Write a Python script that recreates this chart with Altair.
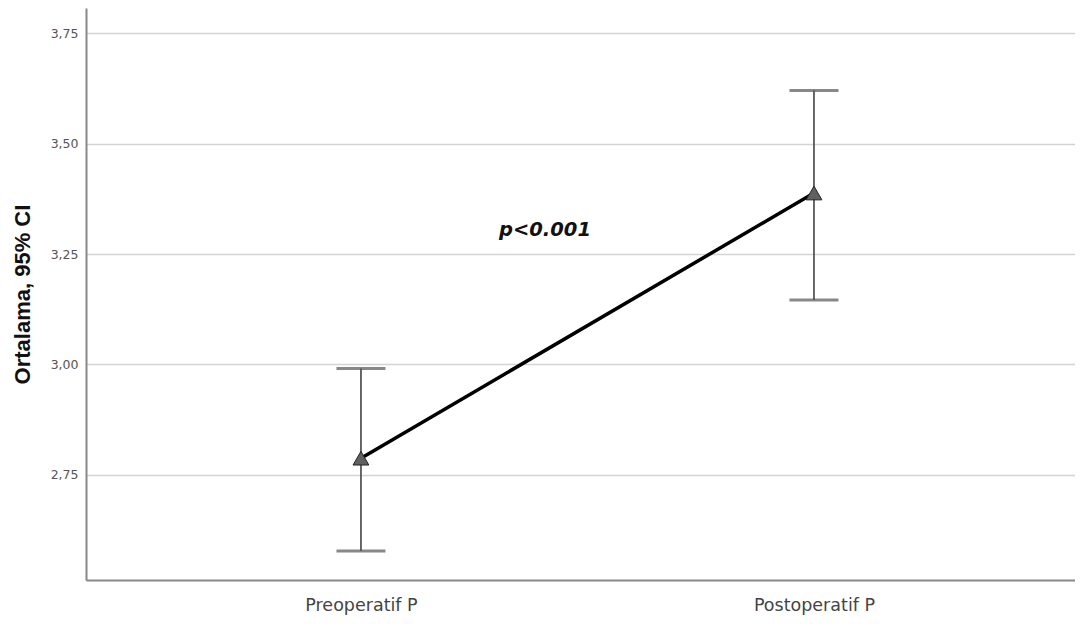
import altair as alt
import pandas as pd

groups = ["Preoperatif P", "Postoperatif P"]
means = [2.788, 3.388]
lower = [2.578, 3.146]
upper = [2.991, 3.620]
y_ticks = [2.75, 3.00, 3.25, 3.50, 3.75]
annotation = "p<0.001"
annotation_y = 3.304

df = pd.DataFrame({"group": groups, "mean": means, "lo": lower, "hi": upper})

xscale = alt.Scale(type="point", padding=0.5916, align=0.513)
xaxis = alt.Axis(labelFont="DejaVu Sans", labelFontSize=17.5, labelColor="#444444",
                 labelPadding=16, ticks=False, domainColor="#888888", domainWidth=2,
                 labelAngle=0, grid=False, title=None)
yscale = alt.Scale(domain=[2.5124, 3.8066], nice=False, zero=False)
yaxis = alt.Axis(values=y_ticks, title="Ortalama, 95% CI",
                 labelExpr="replace(format(datum.value, '.2f'), '.', ',')",
                 labelFont="DejaVu Sans", labelFontSize=12.5, labelColor="#555555",
                 labelPadding=8, ticks=False, domainColor="#888888", domainWidth=2,
                 grid=True, gridColor="#d4d4d4", gridWidth=1.5,
                 titleFont="Liberation Sans", titleFontSize=22, titleFontWeight="bold",
                 titleColor="#111111", titlePadding=16)


def X():
    return alt.X("group:N", sort=groups, title=None, scale=xscale, axis=xaxis)


def Y(field):
    return alt.Y(field, scale=yscale, axis=yaxis, title="Ortalama, 95% CI")


base = alt.Chart(df)

bars = base.mark_rule(color="#444444", strokeWidth=1.6).encode(
    x=X(), y=Y("lo:Q"), y2="hi:Q")
caps_lo = base.mark_tick(color="#555555", size=49, thickness=3, orient="horizontal").encode(
    x=X(), y=Y("lo:Q"))
caps_hi = base.mark_tick(color="#555555", size=49, thickness=3, orient="horizontal").encode(
    x=X(), y=Y("hi:Q"))
line = base.mark_line(color="#000000", strokeWidth=3.5).encode(
    x=X(), y=Y("mean:Q"))
pts = base.mark_point(shape="triangle-up", filled=True, size=250, fill="#606060",
                      stroke="#222222", strokeWidth=1, opacity=1).encode(
    x=X(), y=Y("mean:Q"))
txt = alt.Chart(pd.DataFrame({"group": [groups[0]], "y": [annotation_y], "t": [annotation]})).mark_text(
    font="DejaVu Sans", fontSize=19.5, fontWeight="bold", fontStyle="italic",
    color="#111111", dx=184).encode(
    x=X(), y=Y("y:Q"), text="t:N")

chart = alt.layer(bars, caps_lo, caps_hi, line, pts, txt).properties(
    width=989, height=572,
    background="white",
    autosize=alt.AutoSizeParams(type="none"),
    padding={"left": 78, "top": 0, "right": 0, "bottom": 36},
).configure_view(strokeWidth=0, stroke="transparent")

chart.save("out.html", embed_options={"renderer": "svg", "actions": False})
